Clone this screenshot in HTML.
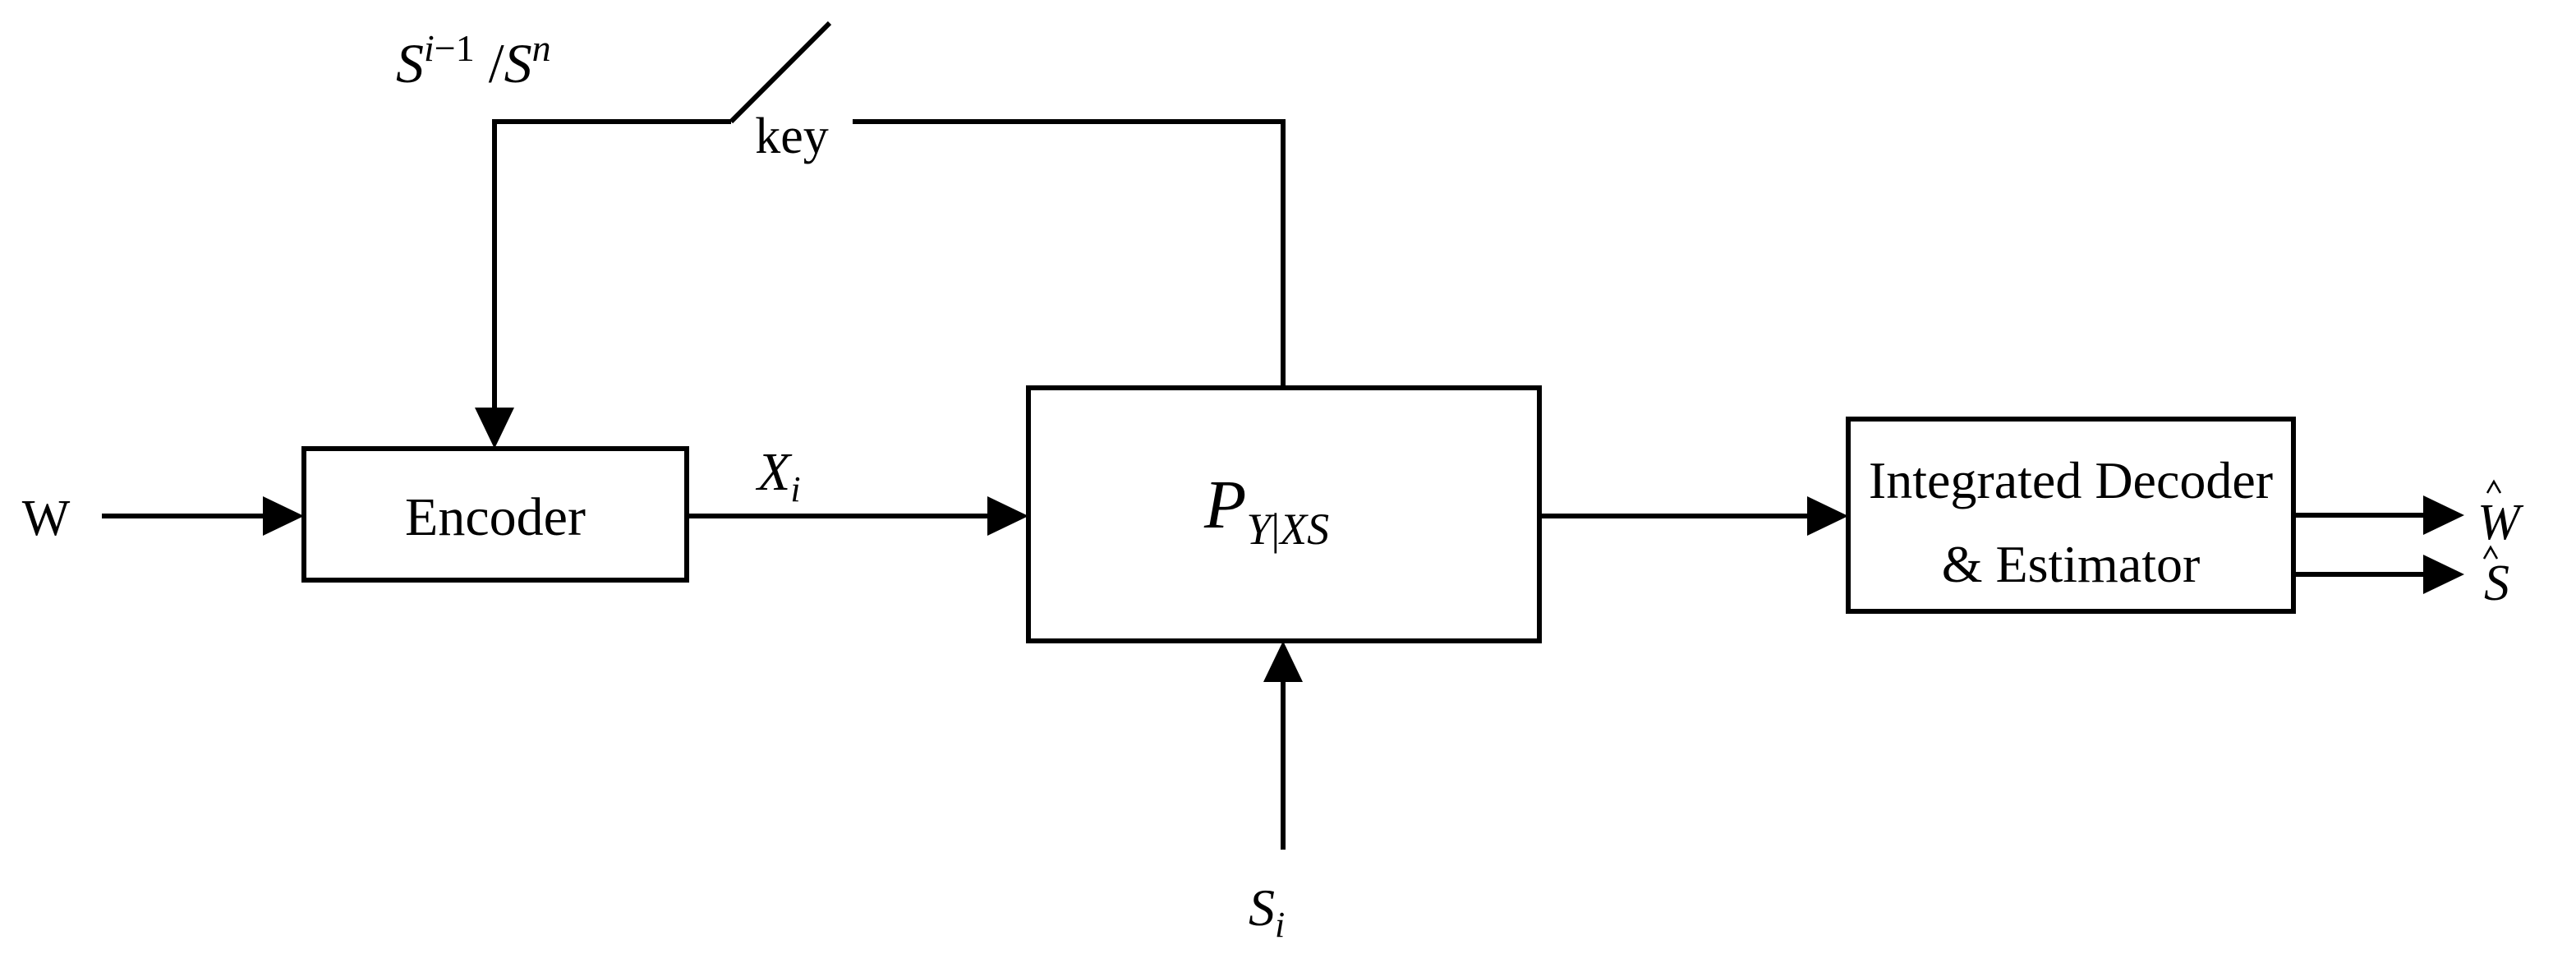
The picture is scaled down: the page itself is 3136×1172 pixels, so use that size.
<!DOCTYPE html>
<html><head><meta charset="utf-8"><style>html,body{margin:0;padding:0;background:#fff}svg{display:block}text{font-family:"Liberation Serif",serif;fill:#000}</style></head>
<body>
<svg width="3136" height="1172" viewBox="0 0 3136 1172" xmlns="http://www.w3.org/2000/svg">
<g stroke="#000" stroke-width="6" fill="none">
<rect x="370" y="546" width="466" height="160"/>
<rect x="1252" y="472" width="622" height="308"/>
<rect x="2250" y="510" width="542" height="234"/>
</g>
<g stroke="#000" stroke-width="6" fill="none">
<line x1="124" y1="628" x2="325" y2="628"/>
<line x1="836" y1="628" x2="1207" y2="628"/>
<line x1="1874" y1="628" x2="2205" y2="628"/>
<line x1="2792" y1="627" x2="2955" y2="627"/>
<line x1="2792" y1="699" x2="2955" y2="699"/>
<line x1="1562" y1="1034" x2="1562" y2="826"/>
<polyline points="1562,472 1562,148 1038,148"/>
<polyline points="890,148 602,148 602,500"/>
<line x1="890" y1="148" x2="1010" y2="28"/>
</g>
<g stroke="#000" stroke-width="2.5" fill="none">
<polyline points="3028,600 3036,586 3044,600"/>
<polyline points="3024,680 3032,666 3040,680"/>
</g>
<g fill="#000">
<path d="M320,604 L370,628 L320,652z"/>
<path d="M1202,604 L1252,628 L1202,652z"/>
<path d="M2200,604 L2250,628 L2200,652z"/>
<path d="M2950,603 L3000,627 L2950,651z"/>
<path d="M2950,675 L3000,699 L2950,723z"/>
<path d="M1538,830 L1562,780 L1586,830z"/>
<path d="M578,496 L602,546 L626,496z"/>
</g>
<text x="56" y="651" font-size="62" text-anchor="middle">W</text>
<text x="603" y="651" font-size="66" text-anchor="middle">Encoder</text>
<text x="922" y="596" font-size="66" font-style="italic">X<tspan font-size="44" dy="14">i</tspan></text>
<text x="1466" y="642" font-size="84" font-style="italic">P<tspan font-size="54" dy="20">Y</tspan><tspan font-size="54" font-style="normal">|</tspan><tspan font-size="54">XS</tspan></text>
<text x="2521" y="606" font-size="64" text-anchor="middle">Integrated Decoder</text>
<text x="2521" y="708" font-size="64" text-anchor="middle">&amp; Estimator</text>
<text x="3016" y="656" font-size="62" font-style="italic">W</text>
<text x="3024" y="730" font-size="62" font-style="italic">S</text>
<text x="1520" y="1126" font-size="64" font-style="italic">S<tspan font-size="44" dy="14">i</tspan></text>
<text x="964" y="186" font-size="62" text-anchor="middle">key</text>
<text x="482" y="100" font-size="68" font-style="italic">S<tspan font-size="46" dy="-26">i</tspan><tspan font-size="46" font-style="normal">−1</tspan><tspan dy="26" font-style="normal"> /</tspan>S<tspan font-size="46" dy="-26">n</tspan></text>
</svg>
</body></html>
